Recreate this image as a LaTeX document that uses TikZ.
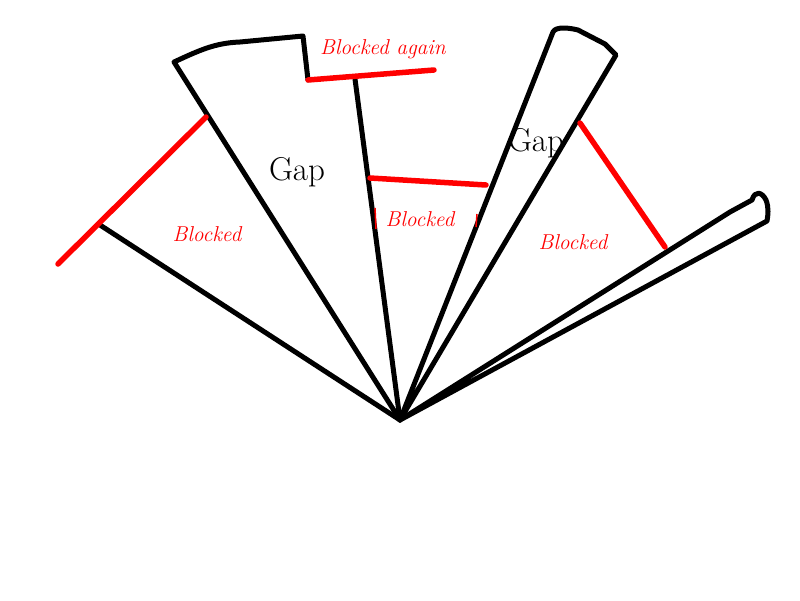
\documentclass[tikz,border=0pt]{standalone}
\begin{document}
\begin{tikzpicture}[x=1pt,y=-1pt,
  blk/.style={line width=5pt,black,line cap=round,line join=round},
  redl/.style={line width=5.5pt,red,line cap=round},
  lab/.style={text=red,font=\fontsize{21.5}{24}\selectfont\itshape,inner sep=0pt},
  gaplab/.style={font=\fontsize{33}{36}\selectfont,inner sep=0pt}]
\useasboundingbox (0,0) rectangle (800,600);
\coordinate (C) at (400,420);
\coordinate (L1) at (100,225);
\coordinate (L2) at (174,62);
\coordinate (T1) at (303,36);
\coordinate (T2) at (308,80);
\coordinate (M1) at (355,79);
\coordinate (R1) at (553,32);
\coordinate (R2) at (616,55);
\coordinate (N1) at (752,200);
\coordinate (N2) at (767,221);
% black lines
\draw[blk] (C) -- (L1);
\draw[blk] (C) -- (L2) .. controls (200,50) and (215,43) .. (240,42) -- (T1) -- (T2);
\draw[blk] (M1) -- (C);
\draw[blk] (C) -- (R1) .. controls (556,26) and (570,28) .. (578,30) -- (605,44) -- (R2) -- (C);
\draw[blk] (C) -- (730,212) -- (N1) .. controls (755,190) and (762,192) .. (766,200) .. controls (769,208) and (768,215) .. (N2) -- (C);
% red lines
\draw[redl] (58,264) -- (206,117);
\draw[redl] (T2) -- (434,70);
\draw[redl] (370,178) -- (486,185);
\draw[redl] (580,123) -- (665,247);
\draw[red,line width=1.5pt] (375,208) -- (376,229);
\draw[red,line width=1.5pt] (477,214) -- (476,227);
% labels
\node[lab] (b0) at (383,49) {Blocked again};
\node[lab] (b1) at (207,234) {Blocked};
\node[lab] (b2) at (420,219) {Blocked};
\node[lab] (b3) at (573,242) {Blocked};
\node[gaplab] (g1) at (297,172) {Gap};
\node[gaplab] (g2) at (536,143) {Gap};
\end{tikzpicture}
\end{document}
